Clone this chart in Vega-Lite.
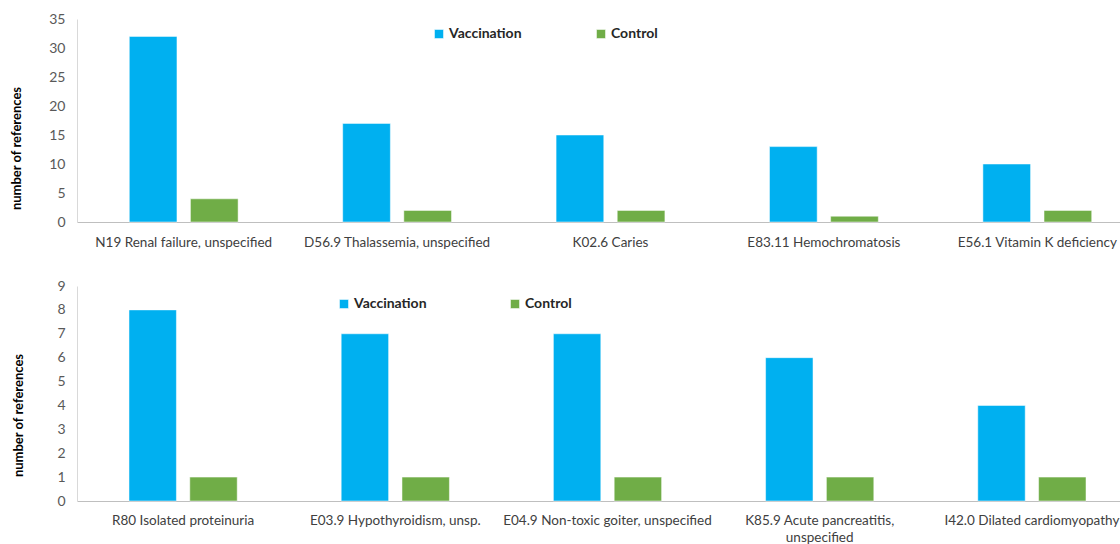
{
  "$schema": "https://vega.github.io/schema/vega-lite/v6.json",
  "autosize": {"type": "pad"},
  "padding": {"left": 10, "top": 12, "right": 0, "bottom": 0},
  "background": "white",
  "spacing": 30,
  "config": {
    "view": {"stroke": null},
    "font": "Lato",
    "axis": {"grid": false, "ticks": false, "labelColor": "#404040", "titleColor": "#000000", "domainColor": "#BFBFBF"},
    "bar": {"stroke": "white", "strokeWidth": 0.5}
  },
  "datasets": {
    "top": [
      {"diagnosis": "N19 Renal failure, unspecified", "group": "Vaccination", "count": 32},
      {"diagnosis": "N19 Renal failure, unspecified", "group": "Control", "count": 4},
      {"diagnosis": "D56.9 Thalassemia, unspecified", "group": "Vaccination", "count": 17},
      {"diagnosis": "D56.9 Thalassemia, unspecified", "group": "Control", "count": 2},
      {"diagnosis": "K02.6 Caries", "group": "Vaccination", "count": 15},
      {"diagnosis": "K02.6 Caries", "group": "Control", "count": 2},
      {"diagnosis": "E83.11 Hemochromatosis", "group": "Vaccination", "count": 13},
      {"diagnosis": "E83.11 Hemochromatosis", "group": "Control", "count": 1},
      {"diagnosis": "E56.1 Vitamin K deficiency", "group": "Vaccination", "count": 10},
      {"diagnosis": "E56.1 Vitamin K deficiency", "group": "Control", "count": 2}
    ],
    "bottom": [
      {"diagnosis": "R80 Isolated proteinuria", "group": "Vaccination", "count": 8},
      {"diagnosis": "R80 Isolated proteinuria", "group": "Control", "count": 1},
      {"diagnosis": "E03.9 Hypothyroidism, unsp.", "group": "Vaccination", "count": 7},
      {"diagnosis": "E03.9 Hypothyroidism, unsp.", "group": "Control", "count": 1},
      {"diagnosis": "E04.9 Non-toxic goiter, unspecified", "group": "Vaccination", "count": 7},
      {"diagnosis": "E04.9 Non-toxic goiter, unspecified", "group": "Control", "count": 1},
      {"diagnosis": "K85.9 Acute pancreatitis, unspecified", "group": "Vaccination", "count": 6},
      {"diagnosis": "K85.9 Acute pancreatitis, unspecified", "group": "Control", "count": 1},
      {"diagnosis": "I42.0 Dilated cardiomyopathy", "group": "Vaccination", "count": 4},
      {"diagnosis": "I42.0 Dilated cardiomyopathy", "group": "Control", "count": 1}
    ]
  },
  "vconcat": [
    {
      "data": {"name": "top"},
      "width": 1067,
      "height": 203,
      "mark": {"type": "bar"},
      "encoding": {
        "x": {"field": "diagnosis", "type": "nominal", "sort": null,
          "scale": {"paddingInner": 0.49, "paddingOuter": 0.245},
          "axis": {"title": null, "labelAngle": 0, "labelFontSize": 13.5, "labelPadding": 13, "labelLimit": 300}},
        "xOffset": {"field": "group", "type": "nominal", "sort": ["Vaccination", "Control"],
          "scale": {"domain": ["Vaccination", "Control"], "paddingInner": 0.22, "paddingOuter": 0}},
        "y": {"field": "count", "type": "quantitative",
          "scale": {"domain": [0, 35], "nice": false},
          "axis": {"title": "number of references", "titleY": 129, "values": [0, 5, 10, 15, 20, 25, 30, 35], "labelFontSize": 14, "labelColor": "#595959", "labelPadding": 12, "titleFontSize": 13, "titleFontWeight": "bold", "titlePadding": 25, "domainColor": "#D9D9D9"}},
        "color": {"field": "group", "type": "nominal",
          "scale": {"domain": ["Vaccination", "Control"], "range": ["#00B0F0", "#70AD47"]},
          "legend": {"orient": "none", "legendX": 355, "legendY": 8, "direction": "horizontal", "columns": 2, "title": null, "symbolType": "square", "symbolSize": 81, "symbolStrokeWidth": 0, "labelFontSize": 14, "labelFontWeight": "bold", "labelColor": "#262626", "labelOffset": 3, "columnPadding": 72}}
      }
    },
    {
      "data": {"name": "bottom"},
      "width": 1061,
      "height": 215,
      "mark": {"type": "bar"},
      "encoding": {
        "x": {"field": "diagnosis", "type": "nominal", "sort": null,
          "scale": {"paddingInner": 0.49, "paddingOuter": 0.245},
          "axis": {"title": null, "labelAngle": 0, "labelFontSize": 13.5, "labelPadding": 12, "labelLimit": 300, "labelLineHeight": 17,
            "labelExpr": "datum.label == 'K85.9 Acute pancreatitis, unspecified' ? ['K85.9 Acute pancreatitis,', 'unspecified'] : datum.label"}},
        "xOffset": {"field": "group", "type": "nominal", "sort": ["Vaccination", "Control"],
          "scale": {"domain": ["Vaccination", "Control"], "paddingInner": 0.22, "paddingOuter": 0}},
        "y": {"field": "count", "type": "quantitative",
          "scale": {"domain": [0, 9], "nice": false},
          "axis": {"title": "number of references", "titleY": 129, "values": [0, 1, 2, 3, 4, 5, 6, 7, 8, 9], "labelFontSize": 14, "labelColor": "#595959", "labelPadding": 12, "titleFontSize": 13, "titleFontWeight": "bold", "titlePadding": 31, "domainColor": "#D9D9D9"}},
        "color": {"field": "group", "type": "nominal",
          "scale": {"domain": ["Vaccination", "Control"], "range": ["#00B0F0", "#70AD47"]},
          "legend": {"orient": "none", "legendX": 260, "legendY": 11, "direction": "horizontal", "columns": 2, "title": null, "symbolType": "square", "symbolSize": 81, "symbolStrokeWidth": 0, "labelFontSize": 14, "labelFontWeight": "bold", "labelColor": "#262626", "labelOffset": 3, "columnPadding": 81}}
      }
    }
  ],
  "resolve": {"scale": {"color": "independent", "x": "independent", "y": "independent", "xOffset": "independent"}, "legend": {"color": "independent"}}
}
